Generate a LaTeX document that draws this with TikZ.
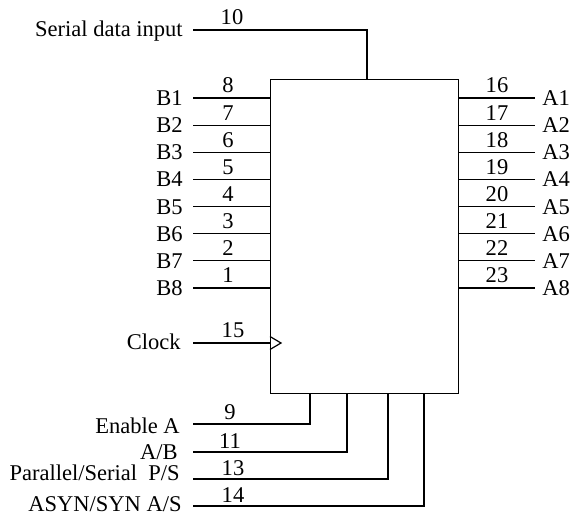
\documentclass[tikz,border=0pt]{standalone}
\usepackage{fontspec}
\setmainfont{Liberation Serif}
\usetikzlibrary{calc,positioning}
\tikzset{
  txt/.style={font=\fontsize{16.9}{20}\selectfont, inner sep=0pt},
  wire/.style={line width=0.9pt},
  pinno/.style={txt, anchor=base},
  sig/.style={txt, anchor=base east},
  sigr/.style={txt, anchor=base west}
}

\begin{document}
\begin{tikzpicture}[x=0.75pt,y=0.75pt,yscale=-1,xscale=1]
\useasboundingbox (0,0) rectangle (571,516);

%Shape: register block
\node (reg) [draw, wire, anchor=north west, inner sep=0pt, minimum width=141pt, minimum height=235.5pt] at (270,79) {};

%Serial data input
\coordinate (sdi) at (193,30);
\coordinate (sdk) at (367,30);
\node (lsdi) [sig] at (183,36.5) {Serial data input};
\node (psdi) [pinno] at (232,25) {10};
\draw [wire] (sdi) -- (sdk) -- (sdk |- reg.north);

%B inputs and A outputs
\foreach \n/\p [count=\k from 0] in {1/8,2/7,3/6,4/5,5/4,6/3,7/2,8/1} {
  \pgfmathsetmacro\yy{98+27.14*\k}
  \pgfmathtruncatemacro\q{15+\n}
  \coordinate (b\n) at (193,\yy);
  \node (lb\n) [sig] at (183,\yy+7.5) {B\n};
  \node (pb\n) [pinno] at (228,\yy-5) {\p};
  \draw [wire] (b\n) -- (b\n -| reg.west);
  \coordinate (a\n) at (535,\yy);
  \node (la\n) [sigr] at (542,\yy+7.5) {A\n};
  \node (pa\n) [pinno] at (497,\yy-5) {\q};
  \draw [wire] (a\n -| reg.east) -- (a\n);
}

%Clock
\coordinate (clk) at (193,343);
\node (lclk) [sig] at (181,350) {Clock};
\node (pclk) [pinno] at (233,338) {15};
\draw [wire] (clk) -- (clk -| reg.west);
\draw [wire] ($(clk -| reg.west)+(0,-6.5)$) -- ++(11,6.5) -- ++(-11,6.5);

%Control inputs
\coordinate (ena) at (193,424);
\coordinate (enk) at (310,424);
\node (lena) [sig] at (180,433) {Enable A};
\node (pena) [pinno] at (230,420) {9};
\draw [wire] (ena) -- (enk) -- (enk |- reg.south);

\coordinate (ab) at (193,452);
\coordinate (abk) at (347,452);
\node (lab) [sig] at (178,459.5) {A/B};
\node (pab) [pinno] at (230,448) {11};
\draw [wire] (ab) -- (abk) -- (abk |- reg.south);

\coordinate (ps) at (193,479);
\coordinate (psk) at (388,479);
\node (lps) [sig] at (180,480) {Parallel/Serial\ \ P/S};
\node (pps) [pinno] at (233,475) {13};
\draw [wire] (ps) -- (psk) -- (psk |- reg.south);

\coordinate (as) at (193,506);
\coordinate (ask) at (424,506);
\node (las) [sig] at (182,511) {ASYN/SYN A/S};
\node (pas) [pinno] at (233,502.5) {14};
\draw [wire] (as) -- (ask) -- (ask |- reg.south);

\end{tikzpicture}
\end{document}
